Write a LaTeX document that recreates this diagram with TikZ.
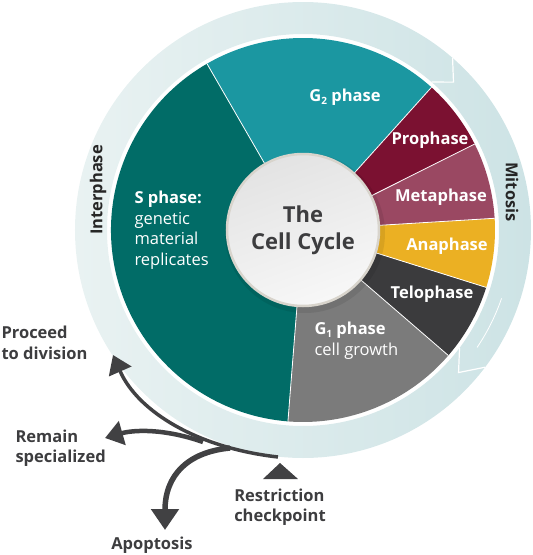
\documentclass[tikz,border=0pt]{standalone}
\usepackage{fontspec}
\setmainfont{Open Sans}
\usetikzlibrary{arrows.meta}

\definecolor{gtwo}{HTML}{1B97A1}
\definecolor{sphase}{HTML}{016C67}
\definecolor{gone}{HTML}{7B7B7B}
\definecolor{telo}{HTML}{3B3B3D}
\definecolor{ana}{HTML}{EBB023}
\definecolor{meta}{HTML}{9A4862}
\definecolor{pro}{HTML}{7B1131}
\definecolor{ringL}{HTML}{E9F2F2}
\definecolor{ringR}{HTML}{CDE3E5}
\definecolor{rim}{HTML}{D8D4CC}
\definecolor{txt}{HTML}{3D3D3F}
\definecolor{fatec}{HTML}{414143}

\tikzset{
  phase/.style={text=white, font=\bfseries\fontsize{16.5}{19}\selectfont},
  band/.style={text=black!85, font=\bfseries\fontsize{16.5}{19}\selectfont},
  note/.style={text=txt, font=\bfseries\fontsize{16.5}{20.5}\selectfont, align=left},
  fate/.style={draw=fatec, line width=3.5pt, -{Triangle[width=24pt,length=18pt]}},
}
\newcommand\phidx[1]{\raisebox{-.35ex}{\fontsize{10}{10}\selectfont #1}}

\begin{document}
\begin{tikzpicture}[x=1pt,y=1pt]
  \useasboundingbox (-303,-325) rectangle (230,230);
  % outer ring
  \shade[left color=ringL, right color=ringR, even odd rule]
        (0,0) circle (228) (0,0) circle (196);
  \draw[white, line width=1.2pt] (49:228) -- (44.5:211) -- (49:196);
  \draw[white, line width=1.2pt] (-37:228) -- (-42.5:211) -- (-37:196);
  \draw[white, line width=.8pt] (-19:210) arc (-19:-34:210);
  %
  \foreach \a/\b/\c in {48/120/gtwo,120/265.5/sphase,-94.5/-40.8/gone,
                        -40.8/-17.4/telo,-17.4/3.5/ana,3.5/26.6/meta,26.6/48/pro}
           {\fill[\c] (0,0) -- (\a:192) arc (\a:\b:192) -- cycle;}
  \foreach \a in {48,120,265.5,-40.8,-17.4,3.5,26.6}
           {\draw[white, line width=.8pt] (0,0) -- (\a:192);}
  %
  \fill[black, opacity=.08] (2,-3) circle (80);
  \node[circle, minimum size=152, draw=rim, line width=2.5pt,
        top color=black!11, bottom color=black!3, shading angle=20,
        text=txt, align=center, font=\bfseries\fontsize{22}{27}\selectfont]
        (core) at (0,0) {The\\Cell Cycle};
  %
  \node[phase] (g2) at (42,133) {G\phidx{2} phase};
  \node[phase] (prophase) at (127,90) {Prophase};
  \node[phase] (metaphase) at (138,33) {Metaphase};
  \node[phase] (anaphase) at (144,-16) {Anaphase};
  \node[phase] (telophase) at (129,-64) {Telophase};
  \node[phase, anchor=west, align=left, font=\fontsize{16.5}{21}\selectfont]
        (g1) at (8,-111) {\textbf{G\phidx{1} phase}\\cell growth};
  \node[phase, anchor=west, align=left, font=\fontsize{16.5}{20.5}\selectfont]
        (s) at (-172,0) {\textbf{S phase:}\\genetic\\material\\replicates};
  \node[band, rotate=90] (inter) at (-205,40) {Interphase};
  \node[band, rotate=-90] (mitosis) at (209,38) {Mitosis};
  %
  \node[note, anchor=west] (proceed) at (-305,-113) {Proceed\\to division};
  \node[note, anchor=west] (remain) at (-291,-218) {Remain\\specialized};
  \node[note] (apop) at (-151,-315) {Apoptosis};
  \node[note] (restrict) at (-23,-277) {Restriction\\checkpoint};
  \fill[fatec] (-40,-249) -- (-23,-233) -- (-5,-249) -- cycle;
  %
  \coordinate (start) at (-25,-227);
  \coordinate (fork) at (-100,-212);
  \coordinate (split) at (-73,-218);
  \coordinate (proceed tip) at (-190,-125);
  \coordinate (remain tip) at (-198,-208);
  \coordinate (apop tip) at (-138,-300);
  \draw[fate, line width=3.5pt] (start) .. controls (-105,-218) and (-165,-182) .. (proceed tip);
  \draw[fate, line width=4.5pt] (fork) .. controls (-140,-198) and (-170,-200) .. (remain tip);
  \draw[fate, line width=5.5pt, -{Triangle[width=27pt,length=21pt]}]
        (split) .. controls (-115,-222) and (-138,-245) .. (apop tip);
\end{tikzpicture}
\end{document}
